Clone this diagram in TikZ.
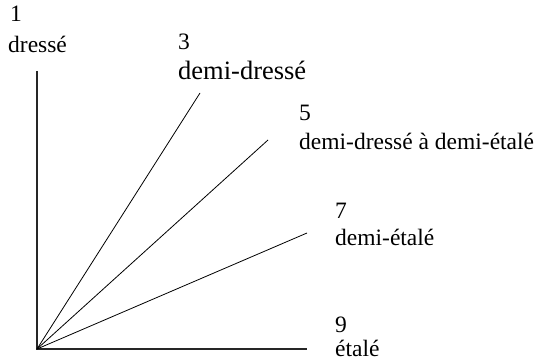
\documentclass[tikz,border=0pt]{standalone}
\usepackage{fontspec}
\setmainfont{Liberation Serif}
\usepackage{xcolor}
\usepackage{tikz}
\usetikzlibrary{calc}

\begin{document}
\begin{tikzpicture}[x=1pt, y=-1pt,
    lbl/.style={anchor=base west, inner sep=0pt, font=\fontsize{23.5}{28}\selectfont},
    biglbl/.style={anchor=base west, inner sep=0pt, font=\fontsize{26.5}{32}\selectfont},
    axis/.style={line width=1.4pt, black!85},
    ray/.style={line width=0.8pt}]

    % --- FRAME ---
    \useasboundingbox (0,0) rectangle (541,361);

    % --- AXES ---
    \coordinate (O) at (37,349);
    \coordinate (Top) at (37,71);
    \coordinate (Right) at (307,349);
    \draw[axis] (Top) -- (O) -- (Right);

    % --- RAYS ---
    \coordinate (R3) at (200,93);
    \coordinate (R5) at (268,140);
    \coordinate (R7) at (307,233);
    \draw[ray] (O) -- (R3);
    \draw[ray] (O) -- (R5);
    \draw[ray] (O) -- (R7);

    % --- LABELS ---
    \node[lbl] (n1) at (10,22) {1};
    \node[lbl] (t1) at (8,53) {dressé};

    \node[lbl] (n3) at (178,50) {3};
    \node[biglbl] (t3) at (178,80) {demi-dressé};

    \node[lbl] (n5) at (299,120) {5};
    \node[lbl] (t5) at (299,149) {demi-dressé à demi-étalé};

    \node[lbl] (n7) at (335,218) {7};
    \node[lbl] (t7) at (335,245) {demi-étalé};

    \node[lbl] (n9) at (335,332) {9};
    \node[lbl] (t9) at (335,356) {étalé};

\end{tikzpicture}
\end{document}
